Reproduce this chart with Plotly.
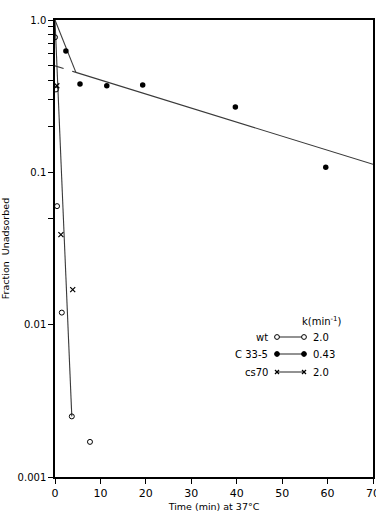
import plotly.graph_objects as go

# ---- data ----
wt_t = [0.0, 0.2, 0.45, 1.5, 3.7, 7.7]
wt_f = [0.77, 0.35, 0.06, 0.012, 0.0025, 0.0017]

c33_t = [2.4, 5.5, 11.4, 19.3, 39.7, 59.6]
c33_f = [0.625, 0.38, 0.37, 0.374, 0.268, 0.108]

cs70_t = [0.4, 1.3, 3.9]
cs70_f = [0.37, 0.039, 0.017]

# fitted lines
wt_fit_t = [0.0, 3.7]
wt_fit_f = [1.0, 0.0025]
c33_fast_t = [0.0, 4.6]
c33_fast_f = [1.0, 0.453]
c33_extrap_t = [0.0, 4.6]
c33_extrap_f = [0.5, 0.453]
c33_slow_t = [4.6, 70.0]
c33_slow_f = [0.453, 0.113]

y_tickvals = [1.0, 0.9, 0.8, 0.7, 0.6, 0.5, 0.4, 0.3, 0.2, 0.1, 0.05, 0.01, 0.001]
y_ticktext = ["1.0", " ", " ", " ", " ", " ", " ", " ", " ", "0.1", " ", "0.01", "0.001"]
x_tickvals = [0, 10, 20, 30, 40, 50, 60, 70]

legend_names = ["wt", "C 33-5", "cs70"]
legend_k = ["2.0", "0.43", "2.0"]

LINE = "#3a3a3a"
FONT = "DejaVu Sans"

fig = go.Figure()
fig.add_trace(go.Scatter(x=wt_fit_t, y=wt_fit_f, mode="lines",
                         line=dict(color=LINE, width=1.1), showlegend=False))
fig.add_trace(go.Scatter(x=c33_fast_t, y=c33_fast_f, mode="lines",
                         line=dict(color=LINE, width=1.1), showlegend=False))
fig.add_trace(go.Scatter(x=c33_extrap_t, y=c33_extrap_f, mode="lines",
                         line=dict(color=LINE, width=1.1, dash="dash"), showlegend=False))
fig.add_trace(go.Scatter(x=c33_slow_t, y=c33_slow_f, mode="lines",
                         line=dict(color=LINE, width=1.1), showlegend=False))
fig.add_trace(go.Scatter(x=wt_t, y=wt_f, mode="markers",
                         marker=dict(symbol="circle-open", size=5, color="black",
                                     line=dict(width=1)), showlegend=False))
fig.add_trace(go.Scatter(x=c33_t, y=c33_f, mode="markers",
                         marker=dict(symbol="circle", size=5.5, color="black"),
                         showlegend=False))
fig.add_trace(go.Scatter(x=cs70_t, y=cs70_f, mode="markers",
                         marker=dict(symbol="x-thin-open", size=5, color="black",
                                     line=dict(width=1.2, color="black")),
                         showlegend=False))

W, H = 376, 514
L, R, T, B = 55, 3, 20, 37
pw, ph = W - L - R, H - T - B


def px(x):
    return (x - L) / pw


def py(y):
    return (H - B - y) / ph


shapes = []
annotations = []
annotations.append(dict(x=px(322), y=py(321), xref="paper", yref="paper",
                        text="k(min<sup>-1</sup>)", showarrow=False,
                        xanchor="center", yanchor="middle",
                        font=dict(family=FONT, size=10, color="black")))
rows_y = [337, 354, 372]
for i, (name, k) in enumerate(zip(legend_names, legend_k)):
    yy = py(rows_y[i])
    annotations.append(dict(x=px(270), y=yy, xref="paper", yref="paper",
                            text=name, showarrow=False, xanchor="right",
                            yanchor="middle",
                            font=dict(family=FONT, size=10, color="black")))
    annotations.append(dict(x=px(311), y=yy, xref="paper", yref="paper",
                            text=k, showarrow=False, xanchor="left",
                            yanchor="middle",
                            font=dict(family=FONT, size=10, color="black")))
    shapes.append(dict(type="line", xref="paper", yref="paper",
                       x0=px(277), x1=px(304), y0=yy, y1=yy,
                       line=dict(color=LINE, width=1.1)))
    for cx in (277, 304):
        if i == 2:
            for d in (1, -1):
                shapes.append(dict(type="line", xref="paper", yref="paper",
                                   xsizemode="pixel", ysizemode="pixel",
                                   xanchor=px(cx), yanchor=yy,
                                   x0=-2, x1=2, y0=-2 * d, y1=2 * d,
                                   line=dict(color="black", width=1.2)))
        else:
            shapes.append(dict(type="circle", xref="paper", yref="paper",
                               xsizemode="pixel", ysizemode="pixel",
                               xanchor=px(cx), yanchor=yy,
                               x0=-2.4, x1=2.4, y0=-2.4, y1=2.4,
                               fillcolor="white" if i == 0 else "black",
                               line=dict(color="black", width=1)))

fig.update_layout(
    width=W, height=H,
    margin=dict(l=L, r=R, t=T, b=B),
    paper_bgcolor="white", plot_bgcolor="white",
    font=dict(family=FONT, size=11, color="black"),
    shapes=shapes, annotations=annotations,
    xaxis=dict(range=[0, 70], tickvals=x_tickvals, ticks="outside", ticklen=5,
               tickwidth=1.3, tickcolor="black", ticklabeloverflow="allow",
               automargin=False,
               showline=True, mirror=True, linecolor="black", linewidth=1.5,
               showgrid=False, zeroline=False,
               tickfont=dict(family=FONT, size=11),
               title=dict(text="Time (min) at 37°C", standoff=4,
                          font=dict(family=FONT, size=9.5))),
    yaxis=dict(type="log", range=[-3, 0], tickvals=y_tickvals, ticktext=y_ticktext,
               ticks="outside", ticklen=5, tickwidth=1.3, tickcolor="black",
               ticklabeloverflow="allow", automargin=False,
               showline=True, mirror=True, linecolor="black", linewidth=1.5,
               showgrid=False, zeroline=False,
               tickfont=dict(family=FONT, size=10),
               title=dict(text="Fraction  Unadsorbed", standoff=10,
                          font=dict(family=FONT, size=9.5))),
)

fig.write_html("out.html")
